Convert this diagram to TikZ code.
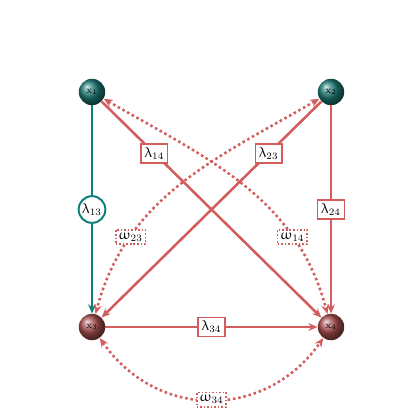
\documentclass[tikz,border=0pt]{standalone}
\definecolor{mTeal}{HTML}{0F7F7A}
\definecolor{mBallTeal}{HTML}{1E7C76}
\definecolor{mRed}{HTML}{D35C5C}
\definecolor{mBallRed}{HTML}{A84E4E}
\usepackage{amsmath}
\usepackage{upgreek}
\usetikzlibrary{arrows.meta,shadings}

\begin{document}
\begin{tikzpicture}[x=0.025cm, y=-0.025cm, font=\normalsize,
  var/.style={circle, minimum size=0.66cm, inner sep=0pt, font=\scriptsize},
  edge/.style={-{Stealth[length=6.5pt, width=5.5pt]}, line width=1.8pt, mRed},
  corr/.style={{Stealth[length=6.5pt, width=5.5pt]}-{Stealth[length=6.5pt, width=5.5pt]}, line width=1.8pt, dotted, mRed},
  lbox/.style={draw=mRed, line width=1.1pt, fill=white, text=black, inner sep=2.5pt, solid},
  obox/.style={draw=mRed, line width=1.1pt, fill=white, text=black, inner sep=2pt, dash pattern=on 1.1pt off 1.4pt},
  cbox/.style={circle, draw=mTeal, line width=1.4pt, fill=white, text=black, inner sep=1pt, minimum size=0.66cm}]
\useasboundingbox (0,0) rectangle (420,420);
% variables
\node[var, ball color=mBallTeal] (x1) at (92,92) {$\mathrm{x}_1$};
\node[var, ball color=mBallTeal] (x2) at (331,92) {$\mathrm{x}_2$};
\node[var, ball color=mBallRed] (x3) at (92,327) {$\mathrm{x}_3$};
\node[var, ball color=mBallRed] (x4) at (331,327) {$\mathrm{x}_4$};
% directed effects
\draw[edge, mTeal] (x1) -- (x3) node[midway, cbox] {$\uplambda_{13}$};
\draw[edge] (x1) -- (x4) node[pos=0.24, lbox] {$\uplambda_{14}$};
\draw[edge] (x2) -- (x3) node[pos=0.24, lbox] {$\uplambda_{23}$};
\draw[edge] (x2) -- (x4) node[midway, lbox] {$\uplambda_{24}$};
\draw[edge] (x3) -- (x4) node[midway, lbox] {$\uplambda_{34}$};
% correlated errors
\draw[corr] (x1) to[out=-30, in=105] node[pos=0.74, obox] {$\upomega_{14}$} (x4);
\draw[corr] (x2) to[out=-150, in=75] node[pos=0.74, obox] {$\upomega_{23}$} (x3);
\draw[corr] (x3) to[out=-55, in=-125, looseness=1.15] node[midway, obox] {$\upomega_{34}$} (x4);
\end{tikzpicture}
\end{document}
